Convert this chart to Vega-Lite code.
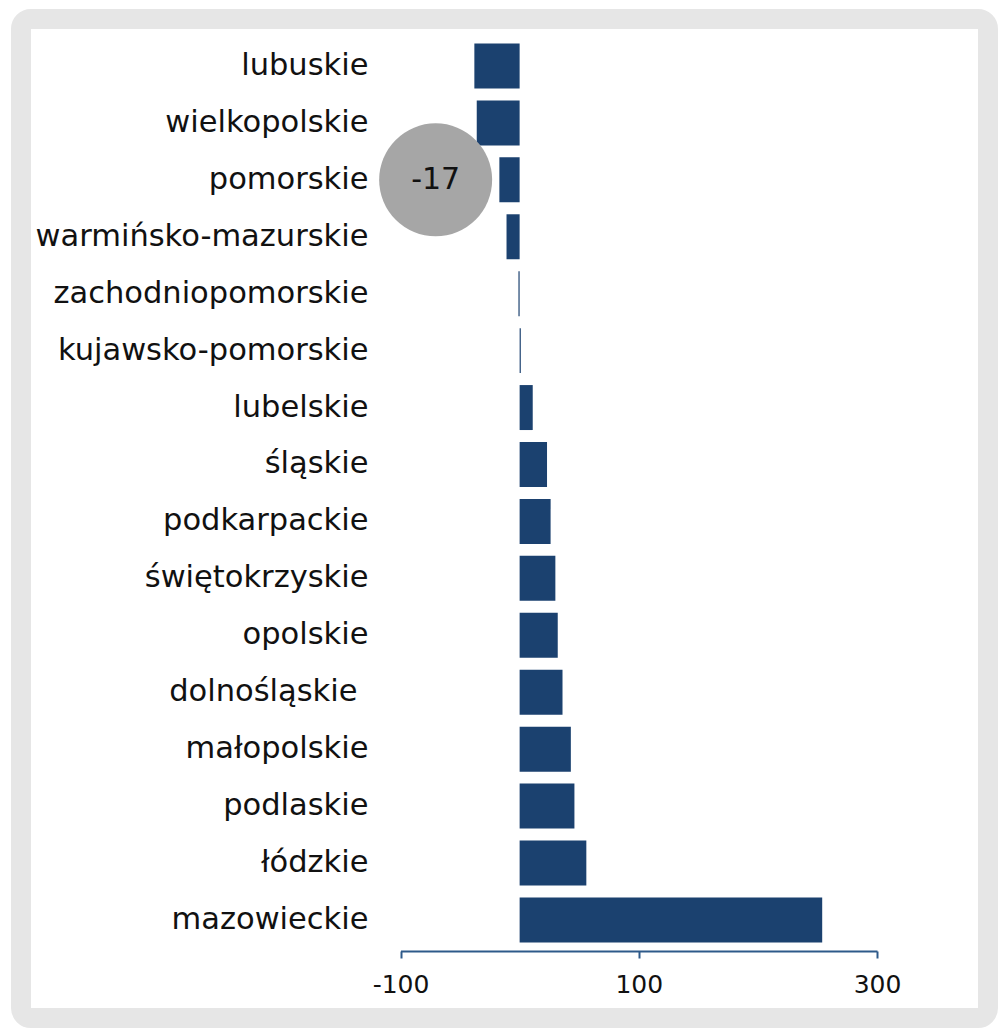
{
  "$schema": "https://vega.github.io/schema/vega-lite/v6.json",
  "autosize": {"type": "none"},
  "padding": {"left": 21, "top": 19, "right": 13, "bottom": 15},
  "width": 967,
  "height": 999,
  "background": "white",
  "config": {
    "view": {"fill": "white", "stroke": "#e6e6e6", "strokeWidth": 20, "cornerRadius": 10},
    "font": "DejaVu Sans"
  },
  "data": {
    "values": [
      {"region": "lubuskie", "value": -38},
      {"region": "wielkopolskie", "value": -36},
      {"region": "pomorskie", "value": -17},
      {"region": "warmińsko-mazurskie", "value": -11},
      {"region": "zachodniopomorskie", "value": -1},
      {"region": "kujawsko-pomorskie", "value": 1},
      {"region": "lubelskie", "value": 11},
      {"region": "śląskie", "value": 23},
      {"region": "podkarpackie", "value": 26},
      {"region": "świętokrzyskie", "value": 30},
      {"region": "opolskie", "value": 32},
      {"region": "dolnośląskie", "value": 36},
      {"region": "małopolskie", "value": 43},
      {"region": "podlaskie", "value": 46},
      {"region": "łódzkie", "value": 56},
      {"region": "mazowieckie", "value": 254}
    ]
  },
  "encoding": {
    "y": {
      "field": "region",
      "type": "nominal",
      "sort": null,
      "scale": {"range": [18.5, 929.4], "paddingInner": 0.21, "paddingOuter": 0.105},
      "axis": {
        "title": null,
        "orient": "left",
        "offset": -347,
        "domain": false,
        "ticks": false,
        "tickSize": 0,
        "labelPadding": {"condition": {"test": "datum.value === 'dolnośląskie'", "value": 11}, "value": 0},
        "labelFontSize": 30.5,
        "labelColor": "#111111",
        "labelFont": "DejaVu Sans",
        "labelLimit": 0
      }
    }
  },
  "layer": [
    {
      "mark": {"type": "bar", "color": "#1b416f"},
      "encoding": {
        "x": {
          "field": "value",
          "type": "quantitative",
          "scale": {"domain": [-100, 300], "range": [379.5, 856], "nice": false, "zero": false},
          "axis": {
            "title": null,
            "orient": "bottom",
            "offset": -67,
            "values": [-100, 100, 300],
            "labelExpr": "replace(datum.label, '\u2212', '-')",
            "labelFlush": false,
            "labelOverlap": false,
            "grid": false,
            "domainColor": "#2e5a8a",
            "domainWidth": 2,
            "tickColor": "#2e5a8a",
            "tickWidth": 2,
            "tickSize": 7,
            "labelPadding": 14,
            "labelFontSize": 25,
            "labelColor": "#111111",
            "labelFont": "DejaVu Sans"
          }
        }
      }
    },
    {
      "transform": [{"filter": "datum.region === 'pomorskie'"}],
      "mark": {"type": "circle", "color": "#a6a6a6", "opacity": 1, "size": 12770},
      "encoding": {
        "x": {"datum": -70.5, "type": "quantitative"}
      }
    },
    {
      "transform": [{"filter": "datum.region === 'pomorskie'"}],
      "mark": {"type": "text", "fontSize": 30, "color": "#111111", "align": "center", "baseline": "middle", "font": "DejaVu Sans"},
      "encoding": {
        "x": {"datum": -70.5, "type": "quantitative"},
        "text": {"field": "value", "type": "nominal"}
      }
    }
  ]
}
